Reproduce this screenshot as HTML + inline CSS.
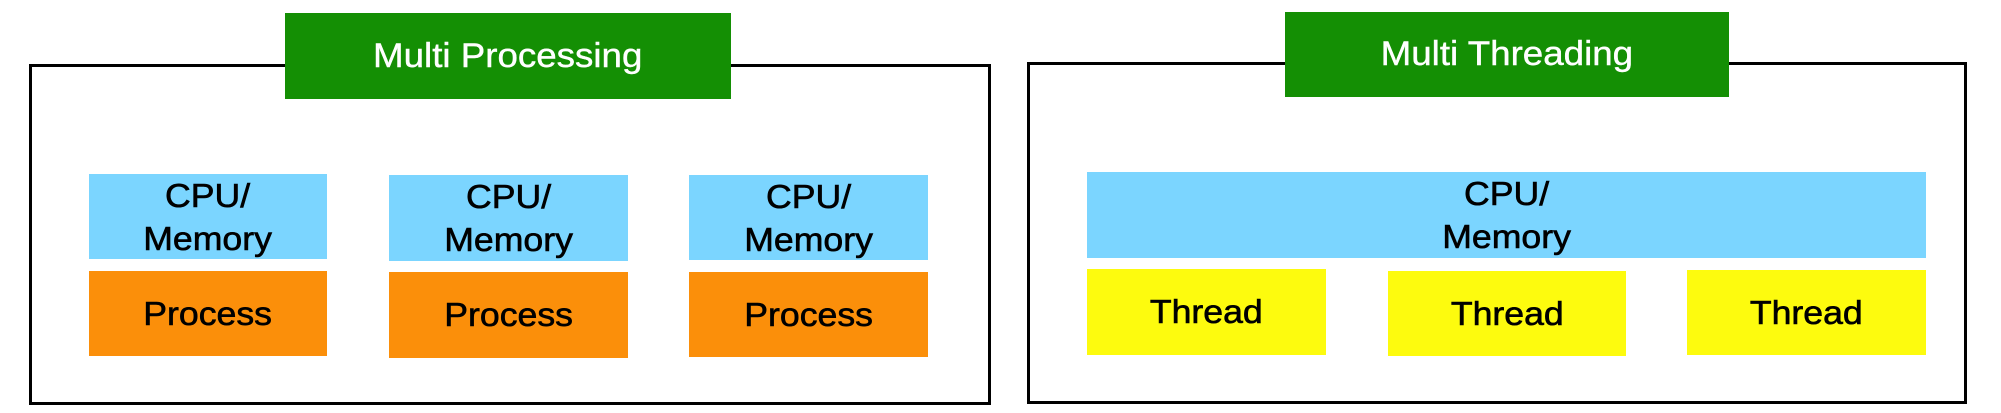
<!DOCTYPE html>
<html><head><style>
html,body{margin:0;padding:0;background:#fff;}
body{width:2001px;height:413px;position:relative;overflow:hidden;font-family:"Liberation Sans",Arial,sans-serif;}
.b{position:absolute;display:flex;align-items:center;justify-content:center;text-align:center;}
.frame{position:absolute;border:3px solid #000;box-sizing:border-box;}
.g{background:#148f04;color:#fff;font-size:34px;}
.c{background:#7bd5ff;color:#000;font-size:33px;line-height:43px;}
.o{background:#fb8f0a;color:#000;font-size:33px;}
.y{background:#fdfb0e;color:#000;font-size:33px;}
.t{display:inline-block;transform:scaleX(1.08);-webkit-text-stroke:0.6px #000;}
.g .t{-webkit-text-stroke:0.4px #fff;}
</style></head><body>
<div class="frame" style="left:29px;top:64px;width:962px;height:341px;"></div>
<div class="b g" style="left:285px;top:13px;width:446px;height:86px;"><span class="t">Multi Processing</span></div>
<div class="b c" style="left:89px;top:174px;width:238px;height:85px;"><span class="t">CPU/<br>Memory</span></div>
<div class="b o" style="left:89px;top:271px;width:238px;height:85px;"><span class="t">Process</span></div>
<div class="b c" style="left:389px;top:175px;width:239px;height:86px;"><span class="t">CPU/<br>Memory</span></div>
<div class="b o" style="left:389px;top:272px;width:239px;height:86px;"><span class="t">Process</span></div>
<div class="b c" style="left:689px;top:175px;width:239px;height:85px;"><span class="t">CPU/<br>Memory</span></div>
<div class="b o" style="left:689px;top:272px;width:239px;height:85px;"><span class="t">Process</span></div>

<div class="frame" style="left:1027px;top:62px;width:940px;height:342px;"></div>
<div class="b g" style="left:1285px;top:12px;width:444px;height:85px;"><span class="t">Multi Threading</span></div>
<div class="b c" style="left:1087px;top:172px;width:839px;height:86px;"><span class="t">CPU/<br>Memory</span></div>
<div class="b y" style="left:1087px;top:269px;width:239px;height:86px;"><span class="t">Thread</span></div>
<div class="b y" style="left:1388px;top:271px;width:238px;height:85px;"><span class="t">Thread</span></div>
<div class="b y" style="left:1687px;top:270px;width:239px;height:85px;"><span class="t">Thread</span></div>
</body></html>
